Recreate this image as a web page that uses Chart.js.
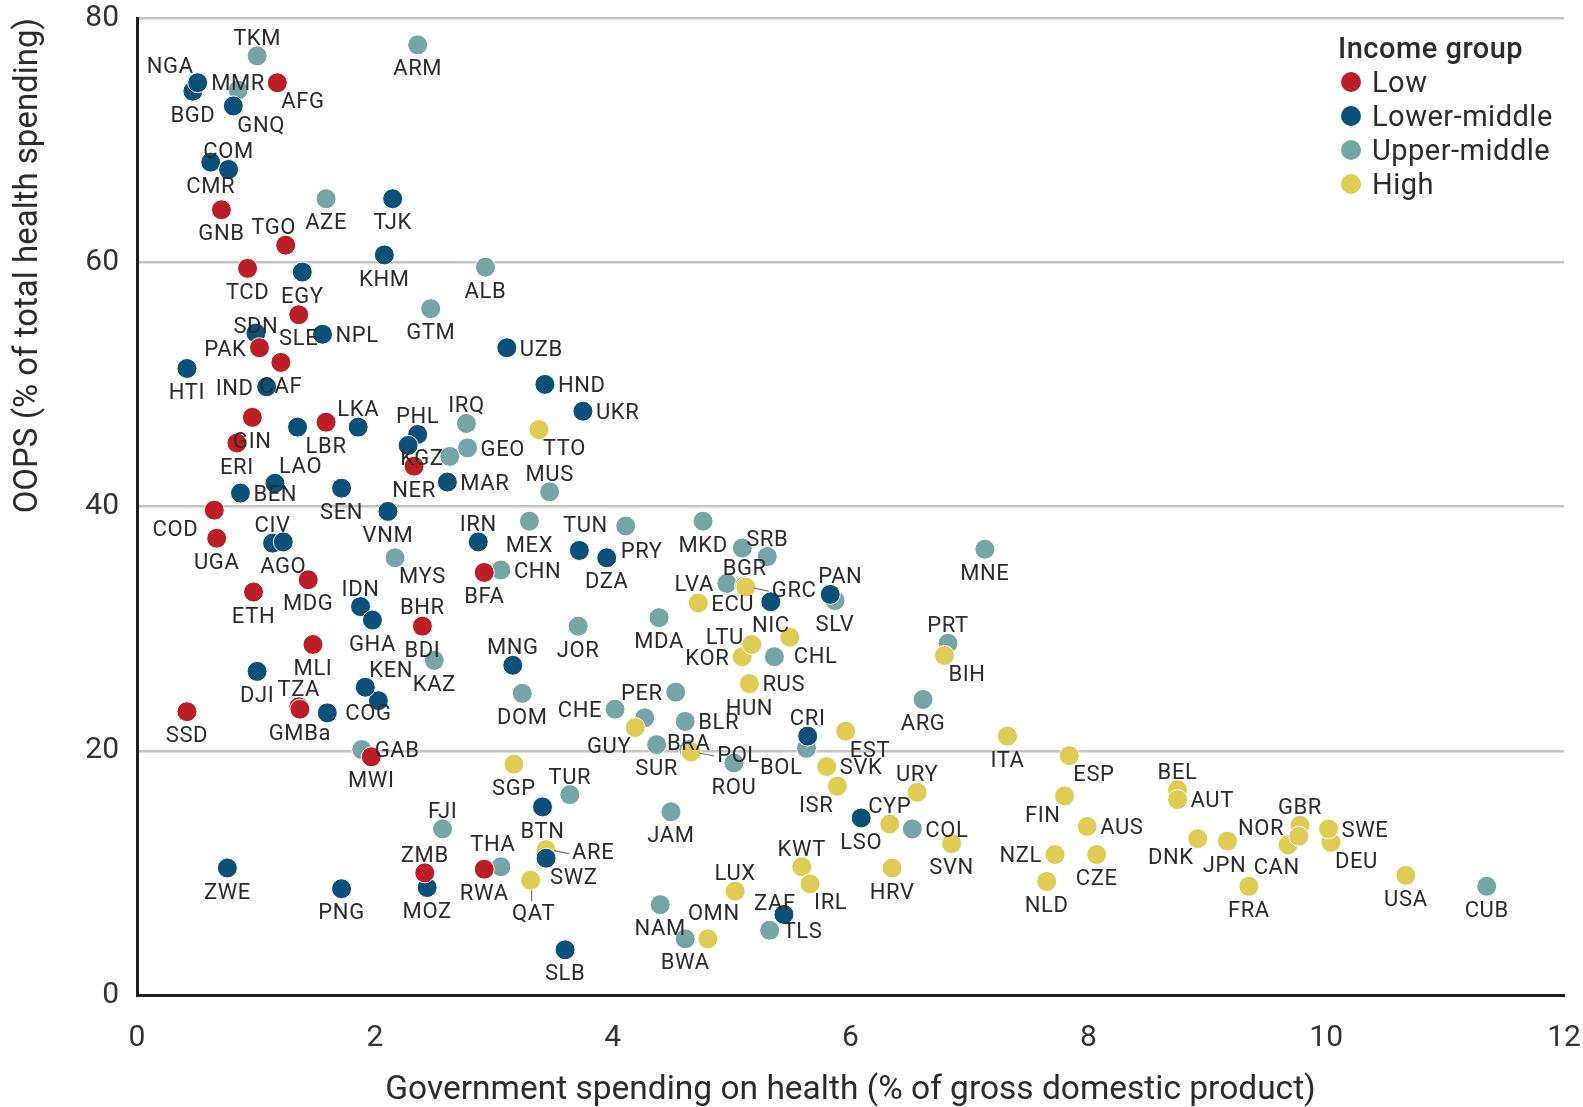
<!DOCTYPE html>
<html>
<head>
  <meta charset="utf-8">
  <title>OOPS vs government health spending</title>
  <style>
    body { margin: 0; background: #fff; }
    #chart { display: block; }
  </style>
</head>
<body>
  <canvas id="chart" width="1583" height="1107"></canvas>

  <script src="https://cdn.jsdelivr.net/npm/chart.js@4.4.1/dist/chart.umd.min.js"></script>
  <script>
    // x = government spending on health (% of GDP), y = OOPS (% of total health spending)
    const lowCodes = ['AFG','GNB','TGO','TCD','SLE','PAK','CAF','GIN','ERI','LBR','COD','UGA','MDG','ETH','MLI','TZA','GMBa','SSD','MWI','NER','BFA','BDI','ZMB','RWA'];
    const lowGov = [1.18,0.71,1.25,0.93,1.36,1.03,1.21,0.97,0.84,1.59,0.65,0.67,1.44,0.98,1.48,1.36,1.37,0.42,1.97,2.33,2.92,2.40,2.42,2.92];
    const lowOops = [74.7,64.3,61.4,59.5,55.7,53.0,51.8,47.3,45.2,46.9,39.7,37.4,34.0,33.0,28.7,23.6,23.4,23.2,19.5,43.3,34.6,30.2,10.0,10.3];

    const lmCodes = ['BGD','NGA','GNQ','CMR','COM','TJK','KHM','EGY','SDN','NPL','HTI','IND','','LKA','LAO','BEN','SEN','VNM','CIV','AGO','IDN','GHA','DJI','COG','KEN','','ZWE','PNG','UZB','HND','UKR','PHL','KGZ','MAR','IRN','TUN','DZA','MNG','NIC','PAN','CRI','BTN','MOZ','SWZ','SLB','ZAF','LSO'];
    const lmGov = [0.47,0.51,0.81,0.62,0.77,2.15,2.08,1.39,1.00,1.56,0.42,1.09,1.35,1.86,1.16,0.87,1.72,2.11,1.14,1.23,1.88,1.98,1.01,2.03,1.92,1.60,0.76,1.72,3.11,3.43,3.75,2.36,2.28,2.61,2.87,3.72,3.95,3.16,5.33,5.83,5.64,3.41,2.44,3.44,3.60,5.44,6.09];
    const lmOops = [74.0,74.7,72.8,68.2,67.6,65.2,60.6,59.2,54.2,54.1,51.3,49.8,46.5,46.5,41.9,41.1,41.5,39.6,37.0,37.1,31.8,30.7,26.5,24.1,25.2,23.1,10.4,8.7,53.0,50.0,47.8,45.9,45.0,42.0,37.1,36.4,35.8,27.0,32.2,32.8,21.2,15.4,8.8,11.2,3.7,6.6,14.5];

    const umCodes = ['TKM','MMR','AZE','ARM','ALB','GTM','IRQ','','GEO','MUS','MEX','PRY','MYS','CHN','KAZ','JOR','MDA','DOM','PER','MKD','','SRB','LVA','BGR','','CHE','','BLR','SUR','BRA','ROU','BOL','GAB','TUR','FJI','JAM','THA','NAM','BWA','TLS','SLV','MNE','PRT','ARG','COL','CUB'];
    const umGov = [1.01,0.85,1.59,2.36,2.93,2.47,2.77,2.63,2.78,3.47,3.30,4.11,2.17,3.06,2.50,3.71,4.39,3.24,4.53,4.76,5.09,5.30,4.96,5.11,5.36,4.02,4.27,4.61,4.37,4.64,5.02,5.63,1.89,3.64,2.57,4.49,3.06,4.40,4.61,5.32,5.87,7.13,6.82,6.61,6.52,11.35];
    const umOops = [76.9,74.1,65.2,77.8,59.6,56.2,46.8,44.1,44.8,41.2,38.8,38.4,35.8,34.8,27.4,30.2,30.9,24.7,24.8,38.8,36.6,35.9,33.7,33.5,27.7,23.4,22.7,22.4,20.5,20.1,19.0,20.2,20.1,16.4,13.6,15.0,10.5,7.4,4.6,5.3,32.3,36.5,28.8,24.2,13.6,8.9];

    const hiCodes = ['TTO','BHR','ECU','GRC','KOR','LTU','CHL','HUN','RUS','GUY','POL','SGP','ARE','QAT','OMN','LUX','KWT','IRL','EST','SVK','ISR','CYP','URY','SVN','HRV','ITA','ESP','FIN','AUS','NZL','CZE','NLD','BIH','BEL','AUT','DNK','JPN','NOR','GBR','CAN','DEU','SWE','FRA','USA'];
    const hiGov = [3.38,2.40,4.72,5.12,5.09,5.17,5.49,5.15,5.15,4.19,4.66,3.17,3.44,3.31,4.80,5.03,5.59,5.66,5.96,5.80,5.89,6.33,6.56,6.85,6.35,7.32,7.84,7.80,7.99,7.72,8.07,7.65,6.79,8.75,8.75,8.92,9.17,9.68,9.78,9.77,10.04,10.02,9.35,10.67];
    const hiOops = [46.3,30.3,32.1,33.4,27.7,28.7,29.3,25.4,25.5,21.9,19.9,18.9,11.9,9.4,4.6,8.5,10.5,9.1,21.6,18.7,17.1,14.0,16.6,12.4,10.4,21.2,19.6,16.3,13.8,11.5,11.5,9.3,27.8,16.8,16.0,12.8,12.6,12.3,13.9,13.0,12.5,13.6,8.9,9.8];

    const groupNames = ['Low', 'Lower-middle', 'Upper-middle', 'High'];
    const groupColors = ['#bb1f25', '#0b5079', '#76a5a8', '#e0cc55'];
    const xTicks = [0, 2, 4, 6, 8, 10, 12];
    const yTicks = [0, 20, 40, 60, 80];

    // where each country label sits relative to its dot ("spot" or "spot:dx,dy")
    const labelSpot = {
      AFG:'se', GNB:'s', TGO:'n:-12,0', TCD:'s', SLE:'s', PAK:'w', CAF:'s', GIN:'s', ERI:'s', LBR:'s', COD:'sw:-12,0', UGA:'s',
      MDG:'s', ETH:'s', MLI:'s', TZA:'n', GMBa:'s', SSD:'s', MWI:'s', NER:'s', BFA:'s', BDI:'s', ZMB:'n', RWA:'s',
      BGD:'s', NGA:'nw', GNQ:'se', CMR:'s', COM:'n', TJK:'s', KHM:'s', EGY:'s', SDN:'c', NPL:'e', HTI:'s', IND:'w',
      LKA:'n', LAO:'ne', BEN:'e', SEN:'s', VNM:'s', CIV:'n', AGO:'s', IDN:'n', GHA:'s', DJI:'s', COG:'s:-10,-11', KEN:'ne',
      ZWE:'s', PNG:'s', UZB:'e', HND:'e', UKR:'e', PHL:'n', KGZ:'se:-12,-6', MAR:'e', IRN:'n', TUN:'n:6,-7', DZA:'s', MNG:'n',
      NIC:'s', PAN:'n:10,0', CRI:'n', BTN:'s', MOZ:'s', SWZ:'se', SLB:'s', ZAF:'c:-9,-4', LSO:'s',
      TKM:'n', MMR:'c', AZE:'s', ARM:'s', ALB:'s', GTM:'s', IRQ:'n', GEO:'e', MUS:'n', MEX:'s', PRY:'se:-9,6', MYS:'se',
      CHN:'e', KAZ:'s', JOR:'s', MDA:'s', DOM:'s', PER:'w', MKD:'s', SRB:'n', LVA:'w', BGR:'n', CHE:'w', BLR:'e',
      SUR:'s', BRA:'c', ROU:'s', BOL:'sw', GAB:'e', TUR:'n', FJI:'n', JAM:'s', THA:'n:-8,-5', NAM:'s', BWA:'s', TLS:'e',
      SLV:'s', MNE:'s', PRT:'n', ARG:'s', COL:'e', CUB:'s',
      TTO:'se', BHR:'n', ECU:'e', GRC:'E', KOR:'w', LTU:'nw:-4,9', CHL:'se', HUN:'s', RUS:'e', GUY:'sw', POL:'E', SGP:'s',
      ARE:'E', QAT:'S', OMN:'n:6,-8', LUX:'n', KWT:'n', IRL:'se', EST:'se', SVK:'e', ISR:'sw', CYP:'n', URY:'n', SVN:'s',
      HRV:'s', ITA:'s', ESP:'se', FIN:'sw', AUS:'e', NZL:'w', CZE:'s', NLD:'s', BIH:'se', BEL:'n', AUT:'e', DNK:'sw',
      JPN:'s:-3,0', NOR:'nw', GBR:'n', CAN:'sw:5,12', DEU:'se', SWE:'e', FRA:'s', USA:'s'
    };

    const FONT = 'Roboto, "DejaVu Sans", sans-serif';
    const TEXT = '#2b2b2b';

    function points(xs, ys) {
      return xs.map((x, i) => ({ x: x, y: ys[i] }));
    }

    function makeSet(i, xs, ys, codes, order) {
      return {
        label: groupNames[i],
        data: points(xs, ys),
        codes: codes,
        order: order,
        backgroundColor: groupColors[i],
        borderColor: '#ffffff',
        borderWidth: 1,
        pointRadius: 10,
        pointHoverRadius: 10
      };
    }

    // draws the country codes next to the dots
    const countryLabels = {
      id: 'countryLabels',
      afterDatasetsDraw(chart) {
        const ctx = chart.ctx;
        const cap = 15.6;
        ctx.save();
        ctx.font = '22px ' + FONT;
        ctx.letterSpacing = '0.6px';
        ctx.fillStyle = TEXT;
        ctx.strokeStyle = '#777';
        ctx.lineWidth = 1.2;
        ctx.textAlign = 'left';
        ctx.textBaseline = 'alphabetic';
        chart.data.datasets.forEach((ds, di) => {
          chart.getDatasetMeta(di).data.forEach((pt, i) => {
            const text = ds.codes[i];
            if (!text) return;
            const parts = (labelSpot[text] || 'n').split(':');
            const nudge = parts[1] ? parts[1].split(',').map(Number) : [0, 0];
            const w = ctx.measureText(text).width;
            const x = pt.x, y = pt.y;
            let tx = x - w / 2, ty = y - 11;
            switch (parts[0]) {
              case 's': tx = x - w / 2; ty = y + 15 + cap; break;
              case 'e': tx = x + 13; ty = y + cap / 2; break;
              case 'w': tx = x - 13 - w; ty = y + cap / 2; break;
              case 'ne': tx = x + 4; ty = y - 10; break;
              case 'nw': tx = x - 4 - w; ty = y - 10; break;
              case 'se': tx = x + 4; ty = y + 10 + cap; break;
              case 'sw': tx = x - 4 - w; ty = y + 10 + cap; break;
              case 'c': tx = x - w / 2; ty = y; break;
              case 'E':
                tx = x + 26; ty = y + cap / 2 + 2;
                ctx.beginPath(); ctx.moveTo(x + 8, y + 1); ctx.lineTo(x + 23, y + 4); ctx.stroke();
                break;
              case 'S':
                tx = x + 3 - w / 2; ty = y + 24 + cap;
                ctx.beginPath(); ctx.moveTo(x + 1, y + 10); ctx.lineTo(x + 1, y + 21); ctx.stroke();
                break;
            }
            ctx.fillText(text, tx + nudge[0], ty + nudge[1]);
          });
        });
        ctx.restore();
      }
    };

    // legend in the top right corner
    const incomeLegend = {
      id: 'incomeLegend',
      afterDraw(chart) {
        const ctx = chart.ctx;
        const left = 1338;
        ctx.save();
        ctx.fillStyle = TEXT;
        ctx.textAlign = 'left';
        ctx.textBaseline = 'alphabetic';
        ctx.letterSpacing = '0.5px';
        ctx.font = '500 29px ' + FONT;
        ctx.fillText('Income group', left, 58);
        ctx.font = '29px ' + FONT;
        groupNames.forEach((name, i) => {
          const base = 92 + i * 34;
          ctx.beginPath();
          ctx.arc(left + 13, base - 10, 10, 0, Math.PI * 2);
          ctx.fillStyle = groupColors[i];
          ctx.fill();
          ctx.fillStyle = TEXT;
          ctx.fillText(name, left + 34, base);
        });
        ctx.restore();
      }
    };

    Chart.defaults.font.family = FONT;
    Chart.defaults.color = TEXT;

    new Chart(document.getElementById('chart'), {
      type: 'scatter',
      data: {
        datasets: [
          makeSet(0, lowGov, lowOops, lowCodes, 1),
          makeSet(1, lmGov, lmOops, lmCodes, 2),
          makeSet(2, umGov, umOops, umCodes, 4),
          makeSet(3, hiGov, hiOops, hiCodes, 3)
        ]
      },
      options: {
        responsive: false,
        animation: false,
        layout: { padding: { top: 18, right: 19, bottom: 0, left: 0 } },
        plugins: {
          legend: { display: false },
          tooltip: { enabled: false }
        },
        scales: {
          x: {
            type: 'linear',
            min: 0,
            max: 12,
            afterBuildTicks: s => { s.ticks = xTicks.map(v => ({ value: v })); },
            ticks: { font: { size: 30 }, color: '#333', padding: 17 },
            grid: { display: false },
            border: { color: '#1f1f1f', width: 3 },
            title: {
              display: true,
              text: 'Government spending on health (% of gross domestic product)',
              font: { size: 33.5, lineHeight: 1.0 },
              color: '#2b2b2b',
              padding: { top: 0, bottom: 0 }
            },
            afterFit: s => { s.height = 112; s.paddingLeft = 0; s.paddingRight = 0; }
          },
          y: {
            type: 'linear',
            min: 0,
            max: 80,
            afterBuildTicks: s => { s.ticks = yTicks.map(v => ({ value: v })); },
            ticks: { font: { size: 30 }, color: '#333', padding: 18 },
            grid: { color: '#c4c4c8', lineWidth: 2.5, drawTicks: false },
            border: { color: '#1f1f1f', width: 3 },
            title: {
              display: true,
              text: 'OOPS (% of total health spending)',
              align: 'end',
              font: { size: 33 },
              color: '#2b2b2b',
              padding: { top: 9, bottom: 0 }
            },
            afterFit: s => { s.width = 137; s.paddingTop = 0; s.paddingBottom = 0; }
          }
        }
      },
      plugins: [countryLabels, incomeLegend]
    });
  </script>
</body>
</html>
